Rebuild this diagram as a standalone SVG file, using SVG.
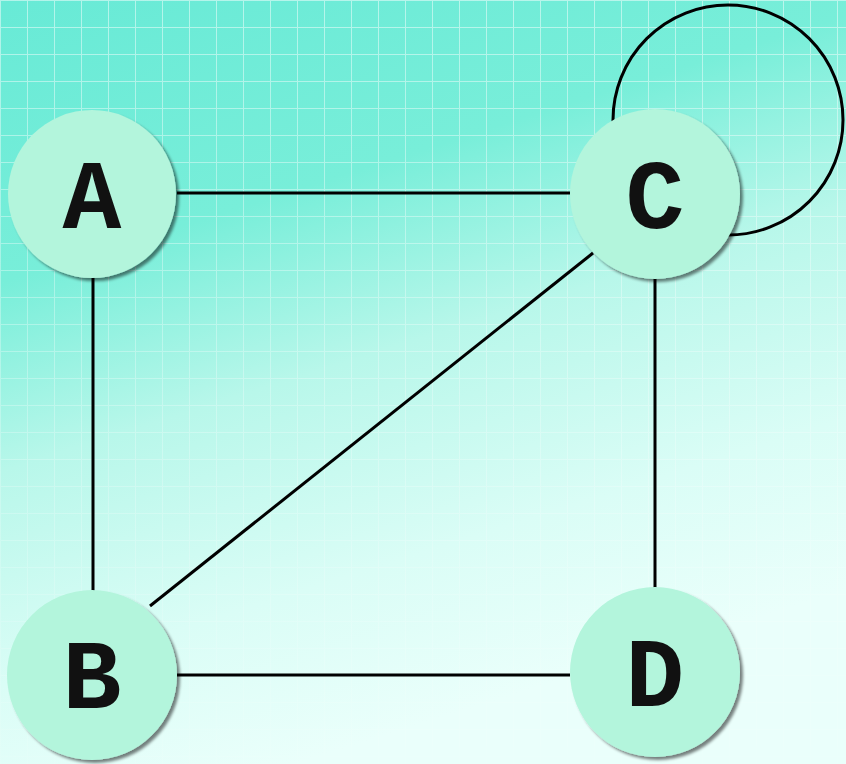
<svg xmlns="http://www.w3.org/2000/svg" width="846" height="764" viewBox="0 0 846 764">
  <defs>
    <linearGradient id="bg" x1="0" y1="0" x2="0.35" y2="1">
      <stop offset="0" stop-color="#68ead6"/>
      <stop offset="0.33" stop-color="#78eed9"/>
      <stop offset="0.55" stop-color="#b8f7ea"/>
      <stop offset="0.8" stop-color="#dafdf6"/>
      <stop offset="1" stop-color="#eafffb"/>
    </linearGradient>
    <linearGradient id="fade" x1="0" y1="0" x2="0" y2="1">
      <stop offset="0" stop-color="#fff" stop-opacity="0.9"/>
      <stop offset="0.4" stop-color="#fff" stop-opacity="0.6"/>
      <stop offset="1" stop-color="#fff" stop-opacity="0.15"/>
    </linearGradient>
    <pattern id="grid" width="27" height="27" patternUnits="userSpaceOnUse">
      <path d="M 27 0 L 0 0 0 27" fill="none" stroke="#ffffff" stroke-width="2" stroke-opacity="0.55"/>
    </pattern>
    <mask id="gridMask">
      <rect width="846" height="764" fill="url(#fade)"/>
    </mask>
    <filter id="shadow" x="-20%" y="-20%" width="150%" height="150%">
      <feGaussianBlur in="SourceAlpha" stdDeviation="1.5"/>
      <feOffset dx="3" dy="3" result="b"/>
      <feComponentTransfer><feFuncA type="linear" slope="0.5"/></feComponentTransfer>
      <feMerge><feMergeNode/><feMergeNode in="SourceGraphic"/></feMerge>
    </filter>
    <style>
      .node { fill: #b3f5dc; filter: url(#shadow); }
      .label { font-family: "Liberation Mono", "Courier New", monospace; font-weight: bold; font-size: 98px; fill: #111; text-anchor: middle; }
      .edge { stroke: #000; stroke-width: 3; fill: none; }
    </style>
  </defs>
  <rect width="846" height="764" fill="url(#bg)"/>
  <rect width="846" height="764" fill="url(#grid)" mask="url(#gridMask)"/>

  <g id="connectors">
    <circle class="edge" cx="728" cy="120" r="115"/>
    <line class="edge" x1="177" y1="193" x2="570" y2="193"/>
    <line class="edge" x1="93" y1="277" x2="93" y2="592"/>
    <line class="edge" x1="593" y1="253" x2="150" y2="606"/>
    <line class="edge" x1="655" y1="278" x2="655" y2="590"/>
    <line class="edge" x1="177" y1="675" x2="570" y2="675"/>
  </g>

  <g id="node-A">
    <circle class="node" cx="92" cy="194" r="84"/>
    <text class="label" x="92" y="228">A</text>
  </g>
  <g id="node-C">
    <circle class="node" cx="655" cy="194" r="85"/>
    <text class="label" x="655" y="228">C</text>
  </g>
  <g id="node-B">
    <circle class="node" cx="92" cy="675" r="85"/>
    <text class="label" x="92" y="708">B</text>
  </g>
  <g id="node-D">
    <circle class="node" cx="655" cy="672" r="85"/>
    <text class="label" x="655" y="706">D</text>
  </g>
</svg>
